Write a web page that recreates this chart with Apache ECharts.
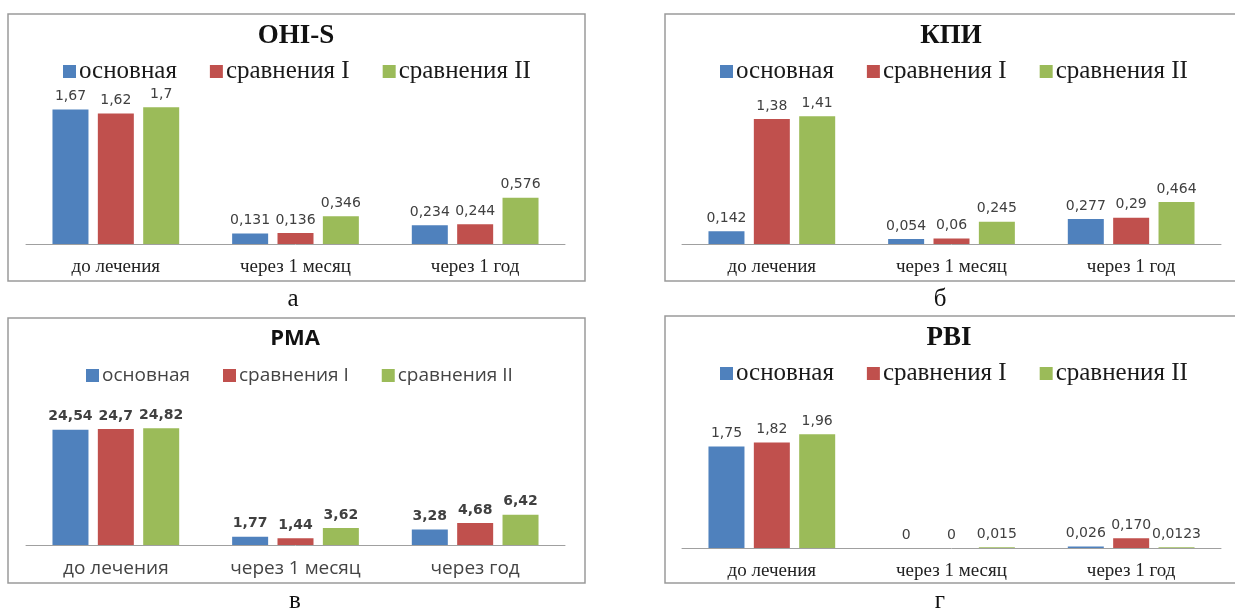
<!DOCTYPE html>
<html>
<head>
<meta charset="utf-8">
<script src="https://cdn.jsdelivr.net/npm/echarts@6/dist/echarts.min.js"></script>
<style>
  html, body { margin: 0; padding: 0; background: #ffffff; }
  #chart { width: 1235px; height: 610px; }
</style>
</head>
<body>
<div id="chart"></div>
<script>
// Categories and group names
const categories = ['до лечения', 'через 1 месяц', 'через 1 год'];
const categoriesPma = ['до лечения', 'через 1 месяц', 'через год'];
const groupNames = ['основная', 'сравнения I', 'сравнения II'];

// OHI-S (a)
const ohisMain = ['1.67', '0.131', '0.234'];
const ohisComp1 = ['1.62', '0.136', '0.244'];
const ohisComp2 = ['1.7', '0.346', '0.576'];

// КПИ (б)
const kpiMain = ['0.142', '0.054', '0.277'];
const kpiComp1 = ['1.38', '0.06', '0.29'];
const kpiComp2 = ['1.41', '0.245', '0.464'];

// PMA (в)
const pmaMain = ['24.54', '1.77', '3.28'];
const pmaComp1 = ['24.7', '1.44', '4.68'];
const pmaComp2 = ['24.82', '3.62', '6.42'];

// PBI (г)
const pbiMain = ['1.75', '0', '0.026'];
const pbiComp1 = ['1.82', '0', '0.170'];
const pbiComp2 = ['1.96', '0.015', '0.0123'];

const colors = ['#4F81BD', '#C0504D', '#9BBB59'];
const SERIF = '"Liberation Serif", "Times New Roman", serif';
const SANS = '"Open Sans", "Liberation Sans", sans-serif';
const LABEL_FONT = '"DejaVu Sans", "Open Sans", sans-serif';

// Panel layout: frame, plot area, title / legend placement and fonts
const panels = [
  { title: 'OHI-S', letter: 'а', cats: categories, data: [ohisMain, ohisComp1, ohisComp2],
    frame: [8, 14, 577, 267], grid: { left: 26, width: 539, top: 83, height: 161 }, max: 2,
    titleX: 296, titleTop: 23, titleFont: SERIF, titleSize: 27,
    legendLeft: 63, legendTop: 59, legendFont: SERIF, legendSize: 25, legendGap: 33, legendColor: '#1a1a1a',
    catFont: SERIF, catSize: 19, catColor: '#222', labelWeight: 'normal', letterX: 293, letterY: 299 },
  { title: 'КПИ', letter: 'б', cats: categories, data: [kpiMain, kpiComp1, kpiComp2],
    frame: [665, 14, 580, 267], grid: { left: 682, width: 539, top: 108, height: 136 }, max: 1.5,
    titleX: 951, titleTop: 23, titleFont: SERIF, titleSize: 27,
    legendLeft: 720, legendTop: 59, legendFont: SERIF, legendSize: 25, legendGap: 33, legendColor: '#1a1a1a',
    catFont: SERIF, catSize: 19, catColor: '#222', labelWeight: 'normal', letterX: 940, letterY: 299 },
  { title: 'PMA', letter: 'в', cats: categoriesPma, data: [pmaMain, pmaComp1, pmaComp2],
    frame: [8, 318, 577, 265], grid: { left: 26, width: 539, top: 404, height: 141 }, max: 30,
    titleX: 295, titleTop: 328, titleFont: SANS, titleSize: 22,
    legendLeft: 86, legendTop: 366, legendFont: SANS, legendSize: 19, legendGap: 33, legendColor: '#444',
    catFont: SANS, catSize: 19, catColor: '#444', labelWeight: 'bold', letterX: 295, letterY: 601 },
  { title: 'PBI', letter: 'г', cats: categories, data: [pbiMain, pbiComp1, pbiComp2],
    frame: [665, 316, 580, 267], grid: { left: 682, width: 539, top: 432, height: 116 }, max: 2,
    titleX: 949, titleTop: 325, titleFont: SERIF, titleSize: 27,
    legendLeft: 720, legendTop: 361, legendFont: SERIF, legendSize: 25, legendGap: 33, legendColor: '#1a1a1a',
    catFont: SERIF, catSize: 19, catColor: '#222', labelWeight: 'normal', letterX: 940, letterY: 601 }
];

const option = {
  animation: false,
  backgroundColor: '#ffffff',
  title: [], legend: [], grid: [], xAxis: [], yAxis: [], series: [], graphic: []
};

panels.forEach((p, i) => {
  option.title.push({
    text: p.title, left: p.titleX, top: p.titleTop, textAlign: 'center', padding: 0,
    textStyle: { fontFamily: p.titleFont, fontSize: p.titleSize, fontWeight: 'bold', color: '#111' }
  });
  option.legend.push({
    data: groupNames, left: p.legendLeft, top: p.legendTop, padding: 0,
    itemWidth: 13, itemHeight: 13, itemGap: p.legendGap, icon: 'rect',
    selectedMode: false,
    textStyle: { fontFamily: p.legendFont, fontSize: p.legendSize, color: p.legendColor, padding: [0, 0, 0, -2] }
  });
  option.grid.push(Object.assign({ containLabel: false }, p.grid));
  option.xAxis.push({
    type: 'category', gridIndex: i, data: p.cats,
    axisLine: { lineStyle: { color: '#a0a0a0', width: 1 } },
    axisTick: { show: false },
    axisLabel: { fontFamily: p.catFont, fontSize: p.catSize, color: p.catColor, margin: 14 }
  });
  option.yAxis.push({
    type: 'value', gridIndex: i, min: 0, max: p.max, show: false, splitLine: { show: false }
  });
  p.data.forEach((vals, s) => {
    option.series.push({
      type: 'bar', name: groupNames[s], xAxisIndex: i, yAxisIndex: i,
      data: vals.map(Number),
      barWidth: 36, barGap: '26%',
      itemStyle: { color: colors[s] },
      label: {
        show: true, position: 'top', distance: 6,
        fontFamily: LABEL_FONT, fontSize: 14, fontWeight: p.labelWeight, color: '#404040',
        formatter: (q) => vals[q.dataIndex].replace('.', ',')
      }
    });
  });
  option.graphic.push({
    type: 'rect', silent: true,
    shape: { x: p.frame[0], y: p.frame[1], width: p.frame[2], height: p.frame[3] },
    style: { fill: 'none', stroke: '#9a9a9a', lineWidth: 1.5 }
  });
  option.graphic.push({
    type: 'text', silent: true, x: p.letterX, y: p.letterY,
    style: { text: p.letter, font: '25px ' + SERIF, fill: '#111', align: 'center', verticalAlign: 'middle' }
  });
});

const chart = echarts.init(document.getElementById('chart'), null, { renderer: 'canvas' });
chart.setOption(option);
</script>
</body>
</html>
